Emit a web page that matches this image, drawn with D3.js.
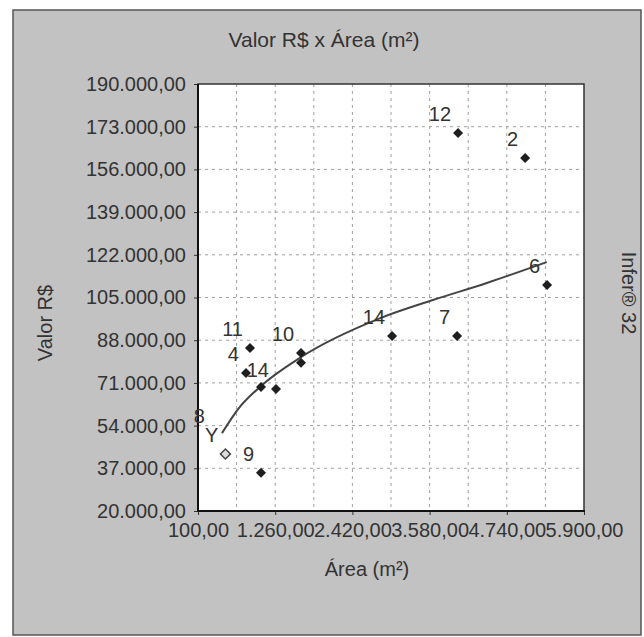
<!DOCTYPE html>
<html><head><meta charset="utf-8">
<script src="https://cdn.jsdelivr.net/npm/d3@7"></script>
<style>
body{margin:0;background:#fff}
text{font-family:"Liberation Sans",Arial,sans-serif;fill:#333}
</style>
</head><body>
<svg id="c" width="644" height="637"></svg>
<script>
// ---- data ----
const xTicks = [100, 1260, 2420, 3580, 4740, 5900];
const xMinorGrid = [680, 1840, 3000, 4160, 5320];
const yTicks = [20000, 37000, 54000, 71000, 88000, 105000, 122000, 139000, 156000, 173000, 190000];

// sample points used in the model (filled diamonds)
const usedX = [4008, 5015, 5345, 3016, 3993, 881, 821, 1047, 1272, 1648, 1648, 1047];
const usedY = [170500, 160500, 110000, 89700, 89700, 84900, 74900, 69400, 68600, 82900, 79000, 35200];
const usedLabel = ["12", "2", "6", "14", "7", "11", "4", "", "14", "10", "", "9"];

// point drawn hollow
const otherX = [512];
const otherY = [42700];
const otherLabel = ["Y"];

// stray label near the axis
const noteText = ["8"];
const noteX = [310];
const noteY = [50300];

// trend curve
const curveX = [460, 700, 1030, 1650, 2840, 3630, 4440, 5340];
const curveY = [51000, 60500, 69400, 81300, 96800, 104000, 110800, 119100];

// ---- drawing ----
const svg = d3.select("#c");
const L = 198, R = 584, T = 84, B = 511;
const fmt = v => {
  const s = d3.format(",.2f")(v);
  return s.replace(/,/g, "#").replace(".", ",").replace(/#/g, ".");
};

// outer frame
svg.append("rect").attr("x", 13).attr("y", 10).attr("width", 628).attr("height", 625)
  .attr("fill", "#c2c2c2").attr("stroke", "#555").attr("stroke-width", 1.5);

const x = d3.scaleLinear().domain([100, 5900]).range([L, R]);
const y = d3.scaleLinear().domain([20000, 190000]).range([B, T]);

// plot area
svg.append("rect").attr("x", L).attr("y", T).attr("width", R - L).attr("height", B - T)
  .attr("fill", "#fff");

// grid
const grid = svg.append("g").attr("stroke", "#a0a0a0").attr("stroke-width", 1).attr("stroke-dasharray", "3,4");
grid.selectAll("line.v").data(xTicks.concat(xMinorGrid).filter(v => v > 100 && v < 5900))
  .join("line").attr("x1", d => x(d)).attr("x2", d => x(d)).attr("y1", T).attr("y2", B);
grid.selectAll("line.h").data(yTicks.filter(v => v > 20000 && v < 190000))
  .join("line").attr("x1", L).attr("x2", R).attr("y1", d => y(d)).attr("y2", d => y(d));

// axes
const yAxis = d3.axisLeft(y).tickValues(yTicks).tickFormat(fmt).tickSize(4).tickPadding(8);
const gy = svg.append("g").attr("transform", `translate(${L},0)`).call(yAxis);
gy.select(".domain").remove();
gy.selectAll("line").attr("stroke", "#333");
gy.selectAll("text").attr("font-size", 20).style("fill", "#333");

const xAxis = d3.axisBottom(x).tickValues(xTicks).tickFormat(fmt).tickSize(4).tickPadding(8);
const gx = svg.append("g").attr("transform", `translate(0,${B})`).call(xAxis);
gx.select(".domain").remove();
gx.selectAll("line").attr("stroke", "#333");
gx.selectAll("text").attr("font-size", 20).style("fill", "#333");

// plot border
svg.append("rect").attr("x", L).attr("y", T).attr("width", R - L).attr("height", B - T)
  .attr("fill", "none").attr("stroke", "#333").attr("stroke-width", 1.5);
svg.append("line").attr("x1", L).attr("x2", L).attr("y1", T).attr("y2", B + 1)
  .attr("stroke", "#111").attr("stroke-width", 2);
svg.append("line").attr("x1", L).attr("x2", R + 1).attr("y1", B).attr("y2", B)
  .attr("stroke", "#111").attr("stroke-width", 2);

// trend curve
const curve = curveX.map((v, i) => [v, curveY[i]]);
svg.append("path").datum(curve)
  .attr("d", d3.line().x(d => x(d[0])).y(d => y(d[1])).curve(d3.curveMonotoneX))
  .attr("fill", "none").attr("stroke", "#444").attr("stroke-width", 2);

// points
const diamond = d3.symbol().type(d3.symbolSquare).size(50);
const used = usedX.map((v, i) => ({x: v, y: usedY[i], label: usedLabel[i]}));
svg.append("g").selectAll("path").data(used).join("path")
  .attr("d", diamond)
  .attr("transform", d => `translate(${x(d.x)},${y(d.y)}) rotate(45)`)
  .attr("fill", "#1e1e1e");
const other = otherX.map((v, i) => ({x: v, y: otherY[i], label: otherLabel[i]}));
svg.append("g").selectAll("path").data(other).join("path")
  .attr("d", diamond)
  .attr("transform", d => `translate(${x(d.x)},${y(d.y)}) rotate(45)`)
  .attr("fill", "#ddd").attr("stroke", "#444").attr("stroke-width", 1.5);

// point labels
svg.append("g").selectAll("text").data(used.concat(other).filter(d => d.label))
  .join("text")
  .attr("x", d => x(d.x) - 7).attr("y", d => y(d.y) - 17)
  .attr("text-anchor", "end").attr("dominant-baseline", "middle")
  .attr("font-size", 20).text(d => d.label);
svg.append("g").selectAll("text").data(noteText).join("text")
  .attr("x", (d, i) => x(noteX[i]) - 7).attr("y", (d, i) => y(noteY[i]) - 17)
  .attr("text-anchor", "end").attr("dominant-baseline", "middle")
  .attr("font-size", 20).text(d => d);

// titles
svg.append("text").attr("x", 324).attr("y", 41).attr("text-anchor", "middle")
  .attr("dominant-baseline", "middle").attr("font-size", 21).text("Valor R$ x Área (m²)");
svg.append("text").attr("x", 367).attr("y", 571).attr("text-anchor", "middle")
  .attr("dominant-baseline", "middle").attr("font-size", 20).text("Área (m²)");
svg.append("text").attr("transform", "translate(47,323) rotate(-90)").attr("text-anchor", "middle")
  .attr("dominant-baseline", "middle").attr("font-size", 20).text("Valor R$");
svg.append("text").attr("transform", "translate(627,293) rotate(90)").attr("text-anchor", "middle")
  .attr("dominant-baseline", "middle").attr("font-size", 20).text("Infer® 32");
</script>
</body></html>
